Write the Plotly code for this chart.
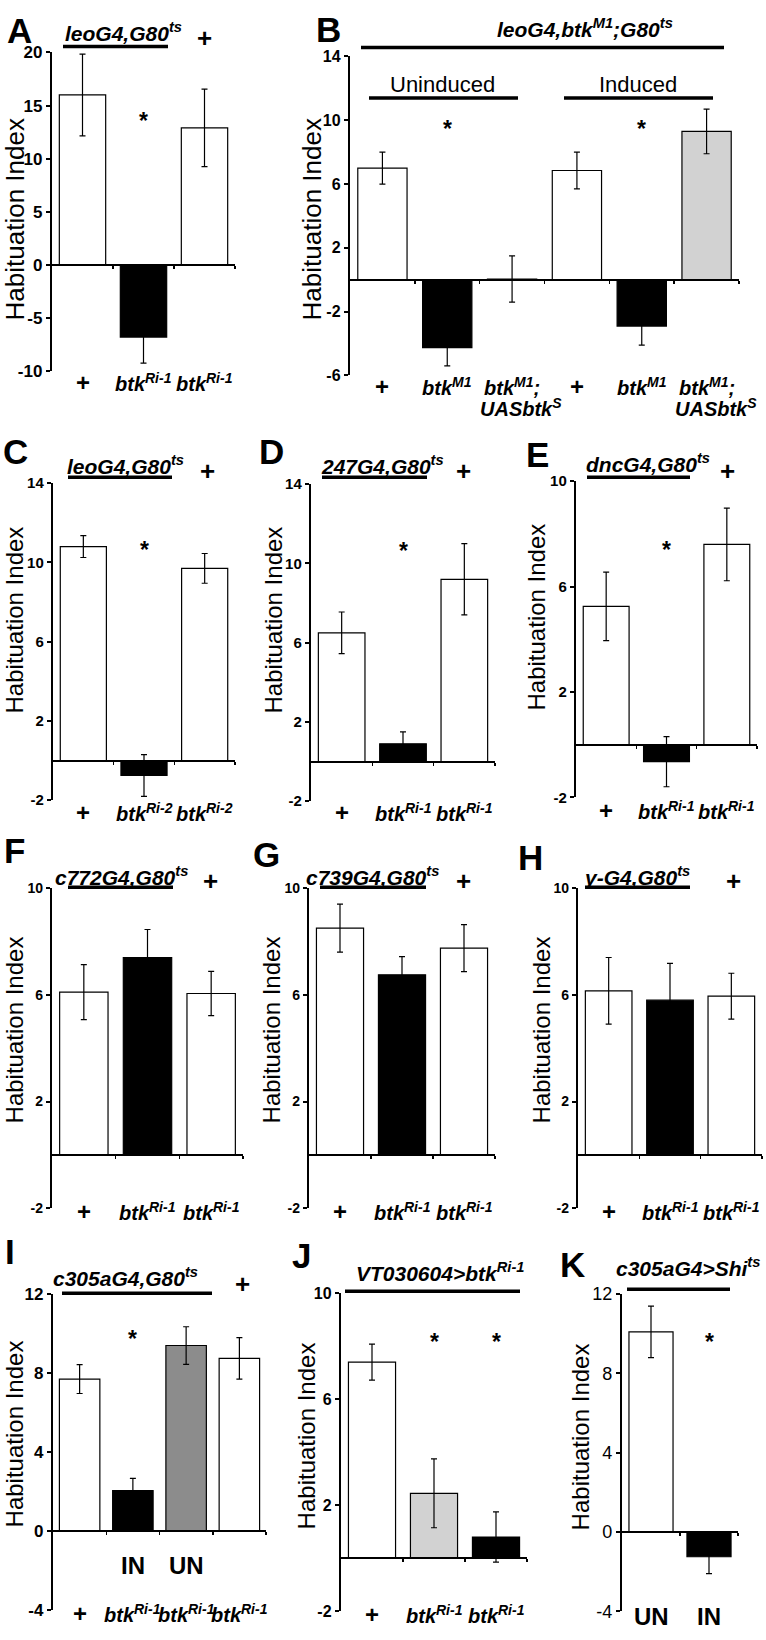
import plotly.graph_objects as go

W, H = 766, 1640
FONT = "Liberation Sans, Arial, sans-serif"
WHITE, BLACK, LGRAY, MGRAY = "#ffffff", "#000000", "#d2d2d2", "#8c8c8c"

# ---------------- data ----------------
A_labels = ["+", "btk<sup>Ri-1</sup>", "btk<sup>Ri-1</sup>"]
A_values = [16.0, -6.8, 12.9]
A_errors = [3.85, 2.45, 3.65]
A_colors = [WHITE, BLACK, WHITE]
A_ticks = [-10, -5, 0, 5, 10, 15, 20]
A_sig = [1]

B_labels = ["+", "btk<sup>M1</sup>", "btk<sup>M1</sup>;", "+", "btk<sup>M1</sup>", "btk<sup>M1</sup>;"]
B_labels2 = ["", "", "UASbtk<sup>S</sup>", "", "", "UASbtk<sup>S</sup>"]
B_values = [7.0, -4.25, 0.05, 6.85, -2.9, 9.3]
B_errors = [1.0, 1.15, 1.45, 1.15, 1.2, 1.4]
B_colors = [WHITE, BLACK, WHITE, WHITE, BLACK, LGRAY]
B_ticks = [-6, -2, 2, 6, 10, 14]
B_sig = [1, 4]
B_groups = ["Uninduced", "Induced"]

C_labels = ["+", "btk<sup>Ri-2</sup>", "btk<sup>Ri-2</sup>"]
C_values = [10.8, -0.75, 9.7]
C_errors = [0.55, 1.05, 0.75]
C_colors = [WHITE, BLACK, WHITE]
C_ticks = [-2, 2, 6, 10, 14]
C_sig = [1]

D_labels = ["+", "btk<sup>Ri-1</sup>", "btk<sup>Ri-1</sup>"]
D_values = [6.5, 0.9, 9.2]
D_errors = [1.05, 0.6, 1.8]
D_colors = [WHITE, BLACK, WHITE]
D_ticks = [-2, 2, 6, 10, 14]
D_sig = [1]

E_labels = ["+", "btk<sup>Ri-1</sup>", "btk<sup>Ri-1</sup>"]
E_values = [5.25, -0.65, 7.6]
E_errors = [1.3, 0.95, 1.38]
E_colors = [WHITE, BLACK, WHITE]
E_ticks = [-2, 2, 6, 10]
E_sig = [1]

F_labels = ["+", "btk<sup>Ri-1</sup>", "btk<sup>Ri-1</sup>"]
F_values = [6.1, 7.4, 6.05]
F_errors = [1.03, 1.05, 0.83]
F_colors = [WHITE, BLACK, WHITE]
F_ticks = [-2, 2, 6, 10]

G_labels = ["+", "btk<sup>Ri-1</sup>", "btk<sup>Ri-1</sup>"]
G_values = [8.5, 6.75, 7.75]
G_errors = [0.9, 0.68, 0.88]
G_colors = [WHITE, BLACK, WHITE]
G_ticks = [-2, 2, 6, 10]

H_labels = ["+", "btk<sup>Ri-1</sup>", "btk<sup>Ri-1</sup>"]
H_values = [6.15, 5.8, 5.95]
H_errors = [1.25, 1.38, 0.86]
H_colors = [WHITE, BLACK, WHITE]
H_ticks = [-2, 2, 6, 10]

I_labels = ["+", "btk<sup>Ri-1</sup>", "btk<sup>Ri-1</sup>", "btk<sup>Ri-1</sup>"]
I_conditions = ["", "IN", "UN", ""]
I_values = [7.7, 2.05, 9.4, 8.75]
I_errors = [0.73, 0.62, 0.95, 1.05]
I_colors = [WHITE, BLACK, MGRAY, WHITE]
I_ticks = [-4, 0, 4, 8, 12]
I_sig = [1]

J_labels = ["+", "btk<sup>Ri-1</sup>", "btk<sup>Ri-1</sup>"]
J_values = [7.4, 2.45, 0.8]
J_errors = [0.68, 1.3, 0.95]
J_colors = [WHITE, LGRAY, BLACK]
J_ticks = [-2, 2, 6, 10]
J_sig = [1, 2]

K_labels = ["UN", "IN"]
K_values = [10.1, -1.25]
K_errors = [1.3, 0.85]
K_colors = [WHITE, BLACK]
K_ticks = [-4, 0, 4, 8, 12]
K_sig = [1]


def X(p):
    return p / W


def Y(p):
    return 1 - p / H


# ---------------- panel geometry (pixels) ----------------
panels = [
    dict(letter="A", labels=A_labels, values=A_values, errors=A_errors, colors=A_colors, ticks=A_ticks, sig=A_sig,
         x0=52, x1=235, yt=43, yb=365.5, rng=[-10, 20], tfs=17, bold=True, laby=377, star_y=112,
         title="leoG4,G80<sup>ts</sup>", tpos=(123, 22), uline=(63, 168, 37), plus=(204, 28),
         lpos=(19, 21), lsize=35, ylab=(15, 212), ylsize=26),
    dict(letter="B", labels=B_labels, values=B_values, errors=B_errors, colors=B_colors, ticks=B_ticks, sig=B_sig,
         x0=350, x1=739, yt=47, yb=370, rng=[-6, 14], tfs=16, bold=True, laby=381, star_y=120,
         title="leoG4,btk<sup>M1</sup>;G80<sup>ts</sup>", tpos=(585, 18), uline=(361, 724, 38), plus=None,
         lpos=(328, 20), lsize=35, ylab=(312, 212), ylsize=26),
    dict(letter="C", labels=C_labels, values=C_values, errors=C_errors, colors=C_colors, ticks=C_ticks, sig=C_sig,
         x0=53, x1=235, yt=479, yb=800, rng=[-2, 14], tfs=15, bold=True, laby=812, star_y=547,
         title="leoG4,G80<sup>ts</sup>", tpos=(125, 461), uline=(68, 172, 473), plus=(207, 467),
         lpos=(15, 447), lsize=35, ylab=(14, 618), ylsize=24),
    dict(letter="D", labels=D_labels, values=D_values, errors=D_errors, colors=D_colors, ticks=D_ticks, sig=D_sig,
         x0=311, x1=495, yt=480, yb=801, rng=[-2, 14], tfs=15, bold=True, laby=812, star_y=548,
         title="247G4,G80<sup>ts</sup>", tpos=(382, 461), uline=(322, 427, 473), plus=(463, 467),
         lpos=(271, 447), lsize=35, ylab=(273, 618), ylsize=24),
    dict(letter="E", labels=E_labels, values=E_values, errors=E_errors, colors=E_colors, ticks=E_ticks, sig=E_sig,
         x0=576, x1=757, yt=477, yb=797, rng=[-2, 10], tfs=15, bold=True, laby=810, star_y=547,
         title="dncG4,G80<sup>ts</sup>", tpos=(648, 459), uline=(587, 690, 473), plus=(727, 467),
         lpos=(537, 450), lsize=35, ylab=(536, 615), ylsize=24),
    dict(letter="F", labels=F_labels, values=F_values, errors=F_errors, colors=F_colors, ticks=F_ticks, sig=[],
         x0=52, x1=243, yt=889, yb=1213, rng=[-2, 10], tfs=14, bold=True, laby=1216, star_y=None,
         title="c772G4,G80<sup>ts</sup>", tpos=(121, 877), uline=(68, 173, 888), plus=(210, 882),
         lpos=(14, 851), lsize=35, ylab=(14, 1033), ylsize=24),
    dict(letter="G", labels=G_labels, values=G_values, errors=G_errors, colors=G_colors, ticks=G_ticks, sig=[],
         x0=309, x1=495, yt=889, yb=1213, rng=[-2, 10], tfs=14, bold=True, laby=1216, star_y=None,
         title="c739G4,G80<sup>ts</sup>", tpos=(372, 877), uline=(320, 426, 888), plus=(463, 882),
         lpos=(266, 855), lsize=35, ylab=(271, 1033), ylsize=24),
    dict(letter="H", labels=H_labels, values=H_values, errors=H_errors, colors=H_colors, ticks=H_ticks, sig=[],
         x0=578, x1=762, yt=889, yb=1213, rng=[-2, 10], tfs=14, bold=True, laby=1216, star_y=None,
         title="γ-G4,G80<sup>ts</sup>", tpos=(637, 877), uline=(585, 690, 888), plus=(733, 882),
         lpos=(530, 858), lsize=35, ylab=(541, 1033), ylsize=24),
    dict(letter="I", labels=I_labels, values=I_values, errors=I_errors, colors=I_colors, ticks=I_ticks, sig=I_sig,
         x0=53, x1=266, yt=1300, yb=1620, rng=[-4, 12], tfs=17, bold=True, laby=1623, star_y=1345,
         title="c305aG4,G80<sup>ts</sup>", tpos=(126, 1283), uline=(62, 212, 1299), plus=(242, 1290),
         lpos=(10, 1257), lsize=35, ylab=(14, 1442), ylsize=24),
    dict(letter="J", labels=J_labels, values=J_values, errors=J_errors, colors=J_colors, ticks=J_ticks, sig=J_sig,
         x0=341, x1=527, yt=1299, yb=1621, rng=[-2, 10], tfs=16, bold=True, laby=1624, star_y=1348,
         title="VT030604&gt;btk<sup>Ri-1</sup>", tpos=(440, 1278), uline=(345, 520, 1297), plus=None,
         lpos=(301, 1261), lsize=35, ylab=(306, 1444), ylsize=24),
    dict(letter="K", labels=K_labels, values=K_values, errors=K_errors, colors=K_colors, ticks=K_ticks, sig=K_sig,
         x0=622, x1=738, yt=1300, yb=1621, rng=[-4, 12], tfs=18, bold=False, laby=1626, star_y=1348,
         title="c305aG4&gt;Shi<sup>ts</sup>", tpos=(688, 1273), uline=(627, 730, 1295), plus=None,
         lpos=(572, 1270), lsize=35, ylab=(580, 1445), ylsize=24),
]

fig = go.Figure()
annotations = []
shapes = []


def text_ann(text, x, y, size, weight="bold", italic=False, angle=0, xref="paper", xanchor="center"):
    t = text
    if italic:
        t = "<i>" + t + "</i>"
    if weight == "bold":
        t = "<b>" + t + "</b>"
    annotations.append(dict(text=t, x=x, y=y, xref=xref, yref="paper", showarrow=False,
                            xanchor=xanchor, yanchor="middle", textangle=angle,
                            font=dict(family=FONT, size=size, color="black")))


for idx, p in enumerate(panels, start=1):
    sfx = "" if idx == 1 else str(idx)
    xname, yname = "x" + sfx, "y" + sfx
    n = len(p["values"])
    cats = list(range(n))
    fig.add_trace(go.Bar(
        x=cats, y=p["values"], width=0.76,
        marker=dict(color=p["colors"], line=dict(color="black", width=1.2)),
        error_y=dict(type="data", array=p["errors"], visible=True, color="black", thickness=1.2, width=3),
        xaxis=xname, yaxis=yname, showlegend=False, hoverinfo="skip"))

    ymin, ymax = p["rng"]
    yd0, yd1 = Y(p["yb"]), Y(p["yt"])
    zero_pos = yd0 + (0 - ymin) / (ymax - ymin) * (yd1 - yd0)
    ticktext = [("<b>%d</b>" if p["bold"] else "%d") % t for t in p["ticks"]]

    fig.update_layout(**{
        "xaxis" + sfx: dict(domain=[X(p["x0"]), X(p["x1"])], range=[-0.5, n - 0.5], anchor="free",
                            position=zero_pos, showline=True, linecolor="black", linewidth=2.2,
                            ticks="outside", ticklen=3, tickwidth=1.5, tickcolor="black",
                            tickvals=[c + 0.5 for c in cats], showticklabels=False,
                            showgrid=False, zeroline=False, fixedrange=True),
        "yaxis" + sfx: dict(domain=[yd0, yd1], range=[ymin, ymax], anchor=xname,
                            showline=True, linecolor="black", linewidth=2.2,
                            ticks="outside", ticklen=4, tickwidth=2, tickcolor="black",
                            tickvals=p["ticks"], ticktext=ticktext, showgrid=False, zeroline=False,
                            fixedrange=True,
                            tickfont=dict(family=FONT, size=p["tfs"], color="black")),
    })

    # category labels
    for c, lab in enumerate(p["labels"]):
        if lab in ("+", "UN", "IN"):
            text_ann(lab, c, Y(p["laby"]), 24, xref=xname)
        else:
            text_ann(lab, c, Y(p["laby"]), 20, italic=True, xref=xname)

    # significance markers
    for c in p["sig"]:
        text_ann("*", c, Y(p["star_y"]), 23, xref=xname)

    # title, underline, plus sign
    text_ann(p["title"], X(p["tpos"][0]), Y(p["tpos"][1]), 21, italic=True)
    ux0, ux1, uy = p["uline"]
    shapes.append(dict(type="line", xref="paper", yref="paper", x0=X(ux0), x1=X(ux1), y0=Y(uy), y1=Y(uy),
                       line=dict(color="black", width=3.5)))
    if p["plus"]:
        text_ann("+", X(p["plus"][0]), Y(p["plus"][1]), 26)

    # panel letter
    text_ann(p["letter"], X(p["lpos"][0]), Y(p["lpos"][1]), p["lsize"])

    # y-axis title
    text_ann("Habituation Index", X(p["ylab"][0]), Y(p["ylab"][1]), p["ylsize"], weight="normal", angle=-90)

# extra labels: B second row, B groups, I conditions
for c, lab in enumerate(B_labels2):
    if lab:
        annotations.append(dict(text="<b><i>" + lab + "</i></b>", x=c, y=Y(402), xref="x2", yref="paper",
                                xshift=9, showarrow=False, xanchor="center", yanchor="middle",
                                font=dict(family=FONT, size=20, color="black")))

group_pos = [(443, 75, 369, 518), (638, 75, 564, 713)]
for g, (gx, gy, lx0, lx1) in zip(B_groups, group_pos):
    text_ann(g, X(gx), Y(gy), 22, weight="normal")
    shapes.append(dict(type="line", xref="paper", yref="paper", x0=X(lx0), x1=X(lx1), y0=Y(89), y1=Y(89),
                       line=dict(color="black", width=3.5)))

for c, lab in enumerate(I_conditions):
    if lab:
        text_ann(lab, c, Y(1575), 24, xref="x9")

fig.update_layout(width=W, height=H, margin=dict(l=0, r=0, t=0, b=0), autosize=False,
                  paper_bgcolor="white", plot_bgcolor="white", showlegend=False, bargap=0,
                  annotations=annotations, shapes=shapes, font=dict(family=FONT, color="black"))

fig.write_html("out.html", config={"displayModeBar": False, "staticPlot": True},
               post_script="document.body.style.margin='0';document.body.style.padding='0';"
                           "document.body.style.overflow='hidden';"
                           "document.documentElement.style.overflow='hidden';")
